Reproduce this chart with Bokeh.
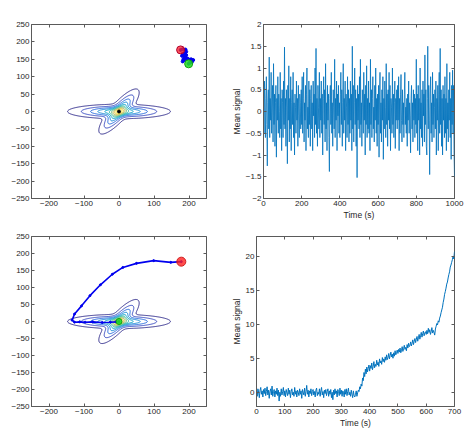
import numpy as np
from bokeh.plotting import figure
from bokeh.layouts import column, row
from bokeh.models import FixedTicker, LinearAxis, Range1d
from bokeh.embed import file_html
from bokeh.resources import INLINE

FONT = "Liberation Sans"

# ---------------- data ----------------
# density landscape: two gaussian components (amplitude, sigma_long, sigma_short, angle deg)
comp_amp = [1.0, 1.0]
comp_sig_long = [60.0, 34.0]
comp_sig_short = [8.5, 10.0]
comp_angle = [0.0, 49.0]
contour_levels = [0.05, 0.2, 0.4, 0.6, 0.8, 1.0, 1.2, 1.4, 1.6, 1.8]
contour_colors = ["#35318f", "#3c4fc4", "#2a6fe0", "#1a8cd8", "#0ea6c9",
                  "#2cb9a6", "#6cc183", "#b2bd62", "#e6c243", "#f3e12a"]

# top-left: short wandering trajectory
traj1_x = [176, 182, 190, 192, 188, 182, 180, 186, 192, 190, 184, 182, 188, 196, 206, 212, 208, 202, 199]
traj1_y = [177, 179, 178, 172, 168, 166, 160, 158, 162, 155, 150, 144, 148, 152, 150, 148, 142, 140, 137]

# bottom-left: trajectory sliding into the well
traj2_x = [178, 148, 99, 50, 11, -19, -53, -83, -107, -127, -134, -127, -112, -97, -75, -48, -25, -9, 0]
traj2_y = [176, 174, 179, 171, 159, 139, 108, 76, 46, 22, 4, -2, -1, -2, -1, -3, -2, -1, 0]

# top-right: mean signal, one value every 2.5 s from 0 to 1000 s
sig1 = [0.4, -0.5, 0.7, 0.1, -0.6, 0.3, 0.8, -0.3, -1.25, 0.2, 0.5, -0.4, 1.25, -0.6, 0.3, -0.2, 0.9, -0.5, 0.1, 0.6,
        -0.7, 1.1, -0.3, 0.4, -0.8, 0.2, 0.6, -1.05, 0.3, -0.2, 0.8, -0.5, 0.4, 0.0, -0.6, 0.9, -0.4, 0.3, -0.9, 0.5,
        0.2, -0.6, 0.7, -0.3, 1.48, -0.4, 0.3, -0.8, 0.5, 0.1, -1.2, 0.6, -0.2, 1.05, -0.7, 0.3, -0.4, 0.8, -0.9, 0.2,
        0.5, -0.3, 0.9, -0.6, 0.2, -1.0, 0.4, 0.1, -0.5, 0.7, -0.2, 0.3, -0.8, 0.6, -0.1, -0.6, 0.4, 0.2, -0.4, 0.5,
        -0.3, 0.8, -0.5, 0.3, 0.9, -0.7, 0.2, -0.2, 0.6, -0.9, 0.4, 1.0, -0.4, 0.1, -0.6, 0.7, -0.3, 0.5, -0.8, 0.3,
        0.6, -0.4, 0.2, -0.9, 0.7, -0.1, 0.4, -0.6, 1.0, -0.3, 1.45, -0.5, 0.3, -0.8, 0.6, 0.1, -0.4, 0.9, -0.6, 0.3,
        -0.2, 0.7, -0.5, 0.4, -1.0, 0.3, 0.8, -0.3, 0.5, -0.7, 1.1, -0.4, 0.2, -0.9, 0.6, -0.2, 0.4, -0.6, -1.38, 0.3,
        0.6, -0.3, 0.9, -0.5, 0.2, -0.8, 0.5, 0.1, -0.4, 1.2, -0.6, 0.3, -0.2, 0.7, -0.9, 0.4, -0.1, 0.6, -0.5, 0.2,
        -0.6, 0.4, 0.9, -0.3, 0.5, -0.8, 0.2, 1.1, -0.5, 0.3, -0.2, 0.7, -0.9, 0.4, 0.1, -0.6, 0.8, -0.3, 0.5, -0.7,
        0.3, -0.5, 0.7, -0.2, 0.4, -0.9, 1.5, -0.4, 0.6, -0.7, 0.2, 1.0, -0.3, 0.5, -0.8, 0.3, -1.52, 0.6, -0.2, 0.4,
        -0.4, 0.8, -0.6, 1.2, -0.3, 0.2, -0.8, 0.5, 0.1, -0.5, 0.9, -0.2, 0.4, -1.0, 0.6, -0.3, 1.05, -0.6, 0.3, -0.4,
        0.7, -0.5, 0.2, -0.9, 1.2, -0.3, 0.5, -0.6, 0.3, 0.8, -0.4, 0.1, -0.7, 0.6, -0.2, 1.0, -0.5, 0.3, -0.8, 0.4,
        -0.3, 0.6, -1.05, 0.4, 0.9, -0.5, 0.2, -0.7, 0.5, -0.2, 0.8, -1.1, 0.3, -0.4, 0.7, 0.1, -0.6, 1.1, -0.3, 0.4,
        -0.8, 0.5, -0.2, 0.9, -0.4, 0.6, -0.9, 0.3, 0.1, -0.5, 1.0, -0.3, 0.4, -0.6, 0.2, 0.7, -0.85, 0.3, -0.2, 0.5,
        -0.4, 0.6, -0.2, 0.8, -0.9, 0.3, -0.5, 0.4, 0.85, -0.2, -0.7, 0.5, -0.3, 0.2, -0.6, 0.4, 0.9, -0.3, 0.1, -0.5,
        0.3, -0.8, 0.4, -0.2, 0.7, -0.5, 0.2, -0.1, -0.95, 0.3, 0.6, -0.4, 0.2, -0.7, 0.5, -0.2, 0.4, -0.6, 0.3, -0.3,
        1.2, -0.5, 0.4, -0.9, 0.6, -0.2, 0.3, -1.0, 1.0, -0.4, 0.2, -0.6, 0.5, -0.8, 0.7, -0.1, 0.4, -0.7, 1.3, -0.3,
        0.5, -0.8, -1.0, 0.3, 1.5, -0.4, 0.6, -0.2, -1.45, 0.4, 0.8, -0.5, 0.2, -0.7, 0.9, -0.3, 0.4, -0.6, 0.1, 0.5,
        -0.4, 0.7, -1.0, 0.3, -0.2, 0.6, -0.9, 0.4, 0.9, -0.5, 1.45, -0.3, 0.5, -0.8, 0.3, -1.0, 0.6, -0.2, 0.4, -0.6,
        0.8, -0.5, 0.3, -0.9, 1.1, -0.4, 0.2, -0.7, 0.5, -0.2, 0.9, -0.6, 0.3, -1.1, 0.6, -0.3, 0.95, -0.5, 0.6, -0.9,
        -1.5]
t1 = [2.5 * i for i in range(len(sig1))]

# bottom-right: mean signal, one value every 2.5 s from 0 to 700 s
sig2 = [0.3, -0.5, 0.6, 0.1, -0.7, 0.4, 0.8, -0.2, 0.3, -0.6, 0.5, -0.1, 0.7, -0.4, 0.2, 0.9, -0.3, 0.4, -0.8, 0.2,
        0.6, -0.3, 1.0, -0.5, 0.2, 0.5, -0.6, 0.3, -0.2, 0.7, -0.4, 0.4, -1.2, 0.1, -0.5, 0.6, -0.3, 0.2, 0.8, -0.4,
        0.3, -0.6, 0.5, 0.0, -0.4, 0.7, -0.2, 0.4, -0.7, 0.2, 0.6, -0.3, 0.1, -0.5, 0.8, -0.2, 0.3, -0.6, 0.4, 0.1,
        -0.4, 0.6, -0.2, 0.3, -0.8, 0.5, 0.1, -0.3, 0.7, -0.5, 0.2, 1.1, -0.2, 0.4, -0.6, 0.3, -0.1, 0.6, -0.4, 0.2,
        0.5, -0.3, 0.2, -0.6, 0.4, 0.7, -0.4, 0.1, -0.2, 0.6, -0.5, 0.3, 0.8, -0.3, 0.2, -0.7, 0.4, -0.1, 0.5, -0.4,
        0.2, 0.6, -0.5, 0.3, -0.2, 0.5, -0.7, 0.1, -1.0, 0.4, -0.3, 0.6, -0.1, 0.3, -0.6, 0.5, 0.2, -0.4, 0.7, -0.2,
        0.4, -0.5, 0.3, 0.1, -0.6, 0.5, -0.2, 0.6, -0.4, 0.2, 0.7, -0.3, 0.1, -0.5, 0.4, -0.2, -0.7, 0.3, -0.4, -0.6,
        -0.2, 0.3, -0.5, 0.0, 0.4, 0.2, 0.9, 0.6, 1.3, 1.0, 2.2, 1.8, 3.0, 2.4, 3.5, 2.8, 3.8, 3.1, 3.6, 4.1,
        3.2, 4.0, 3.6, 4.4, 3.4, 3.9, 4.6, 3.7, 4.2, 3.9, 4.8, 4.1, 4.5, 3.9, 5.0, 4.4, 4.7, 4.2, 5.2, 4.6,
        5.0, 4.5, 5.3, 4.8, 5.6, 4.9, 5.2, 5.8, 5.0, 5.5, 6.0, 5.3, 5.7, 5.1, 5.9, 5.4, 6.2, 5.6, 5.9, 6.3,
        5.8, 6.4, 6.0, 6.6, 5.9, 6.2, 6.8, 6.1, 6.5, 7.0, 6.4, 6.7, 6.2, 7.1, 6.6, 7.3, 6.8, 7.0, 7.5, 6.9,
        7.3, 7.8, 7.1, 7.6, 8.0, 7.4, 7.9, 8.3, 7.6, 8.1, 8.6, 7.9, 8.4, 8.9, 8.2, 8.7, 9.1, 8.4, 8.8, 9.0,
        8.6, 9.2, 8.7, 9.5, 8.9, 9.3, 8.6, 9.0, 9.6, 8.8, 9.2, 8.9, 8.5, 9.4, 9.8, 10.2, 10.0, 10.6, 10.4, 11.0,
        11.3, 11.8, 12.2, 12.6, 13.3, 13.8, 14.5, 14.9, 15.4, 16.0, 16.3, 16.9, 17.4, 17.8, 18.5, 18.8, 19.2, 19.6, 20.1, 19.7,
        20.8]
t2 = [2.5 * i for i in range(len(sig2))]

box_ticks = [-250, -200, -150, -100, -50, 0, 50, 100, 150, 200, 250]
box_xticks = [-200, -100, 0, 100, 200]

AX = "#5a5a5a"
TXT = "#262626"
BLUE = "#0072BD"
PATH = "#0000ee"


def style(p, xticks, yticks, xlabel=None, ylabel=None):
    p.xgrid.visible = False
    p.ygrid.visible = False
    p.outline_line_color = AX
    p.background_fill_color = "white"
    p.border_fill_color = "white"
    for ax, ticks in ((p.xaxis[0], xticks), (p.yaxis[0], yticks)):
        ax.ticker = FixedTicker(ticks=ticks)
        ax.axis_line_color = AX
        ax.major_tick_line_color = AX
        ax.major_tick_in = 3
        ax.major_tick_out = 0
        ax.minor_tick_line_color = None
        ax.major_label_text_font = FONT
        ax.major_label_text_font_size = "8px"
        ax.major_label_text_color = TXT
        ax.major_label_standoff = 2
        ax.axis_label_text_font = FONT
        ax.axis_label_text_font_size = "8.5px"
        ax.axis_label_text_font_style = "normal"
        ax.axis_label_text_color = TXT
        ax.axis_label_standoff = 1
    if xlabel:
        p.xaxis[0].axis_label = xlabel
    if ylabel:
        p.yaxis[0].axis_label = ylabel
    # MATLAB-style box: inward ticks on the top and right edges too (no labels)
    for loc, ticks in (("above", xticks), ("right", yticks)):
        a = LinearAxis(ticker=FixedTicker(ticks=ticks))
        a.axis_line_color = None
        a.major_tick_line_color = AX
        a.major_tick_in = 3
        a.major_tick_out = 0
        a.minor_tick_line_color = None
        a.major_label_text_font_size = "1px"
        a.major_label_text_color = None
        a.major_label_text_alpha = 0
        a.major_label_standoff = 0
        p.add_layout(a, loc)


def landscape():
    gx = np.linspace(-250, 250, 251)
    gy = np.linspace(-250, 250, 251)
    X, Y = np.meshgrid(gx, gy)
    Z = np.zeros_like(X)
    for a, sl, ss, ang in zip(comp_amp, comp_sig_long, comp_sig_short, comp_angle):
        th = np.deg2rad(ang)
        u = X * np.cos(th) + Y * np.sin(th)
        v = -X * np.sin(th) + Y * np.cos(th)
        Z += a * np.exp(-(u ** 2 / (2 * sl ** 2) + v ** 2 / (2 * ss ** 2)))
    return gx, gy, Z


gx, gy, Z = landscape()

# layout (frames of plots in the same row / column are aligned by Bokeh)
ROW1_H, ROW2_H = 222, 208
COL1_W, COL2_W = 228, 244


def box_fig(top, bottom, left, right, h):
    p = figure(width=COL1_W, height=h, x_range=Range1d(-250, 250), y_range=Range1d(-250, 250),
               output_backend="svg", toolbar_location=None,
               min_border_top=top, min_border_bottom=bottom, min_border_left=left, min_border_right=right)
    style(p, box_xticks, box_ticks)
    p.contour(gx, gy, Z, contour_levels, line_color=contour_colors, line_width=1)
    return p


# top-left
p1 = box_fig(24, 24, 31, 22, ROW1_H)
p1.line(traj1_x, traj1_y, line_color=PATH, line_width=2)
p1.scatter(traj1_x, traj1_y, size=3, color=PATH)
p1.scatter([traj1_x[0]], [traj1_y[0]], size=8, fill_color="#ff2020", fill_alpha=0.75, line_color="#b00030")
p1.scatter([traj1_x[-1]], [traj1_y[-1]], size=8, fill_color="#20e020", fill_alpha=0.85, line_color="#10a010")
p1.scatter([0], [0], size=3, color="black")

# top-right
p2 = figure(width=COL2_W, height=ROW1_H, x_range=Range1d(0, 1000), y_range=Range1d(-2, 2),
            output_backend="svg", toolbar_location=None,
            min_border_top=24, min_border_bottom=24, min_border_left=26, min_border_right=18)
style(p2, [0, 200, 400, 600, 800, 1000], [-2, -1.5, -1, -0.5, 0, 0.5, 1, 1.5, 2],
      xlabel="Time (s)", ylabel="Mean signal")
p2.line(t1, sig1, line_color=BLUE, line_width=0.8)

# bottom-left
p3 = box_fig(14, 23, 31, 22, ROW2_H)
p3.line(traj2_x, traj2_y, line_color=PATH, line_width=1.6)
p3.scatter(traj2_x, traj2_y, size=2, color=PATH)
p3.scatter([traj2_x[0]], [traj2_y[0]], size=9, fill_color="#ff2020", fill_alpha=0.8, line_color="#d02020")
p3.scatter([traj2_x[-1]], [traj2_y[-1]], size=6, fill_color="#20e020", fill_alpha=0.9, line_color="#10a010")

# bottom-right
p4 = figure(width=COL2_W, height=ROW2_H, x_range=Range1d(0, 700), y_range=Range1d(-2, 23),
            output_backend="svg", toolbar_location=None,
            min_border_top=14, min_border_bottom=23, min_border_left=26, min_border_right=18)
style(p4, [0, 100, 200, 300, 400, 500, 600, 700], [0, 5, 10, 15, 20],
      xlabel="Time (s)", ylabel="Mean signal")
p4.line(t2, sig2, line_color=BLUE, line_width=1)

layout = column(row(p1, p2), row(p3, p4))
open("out.html", "w").write(file_html(layout, INLINE))
